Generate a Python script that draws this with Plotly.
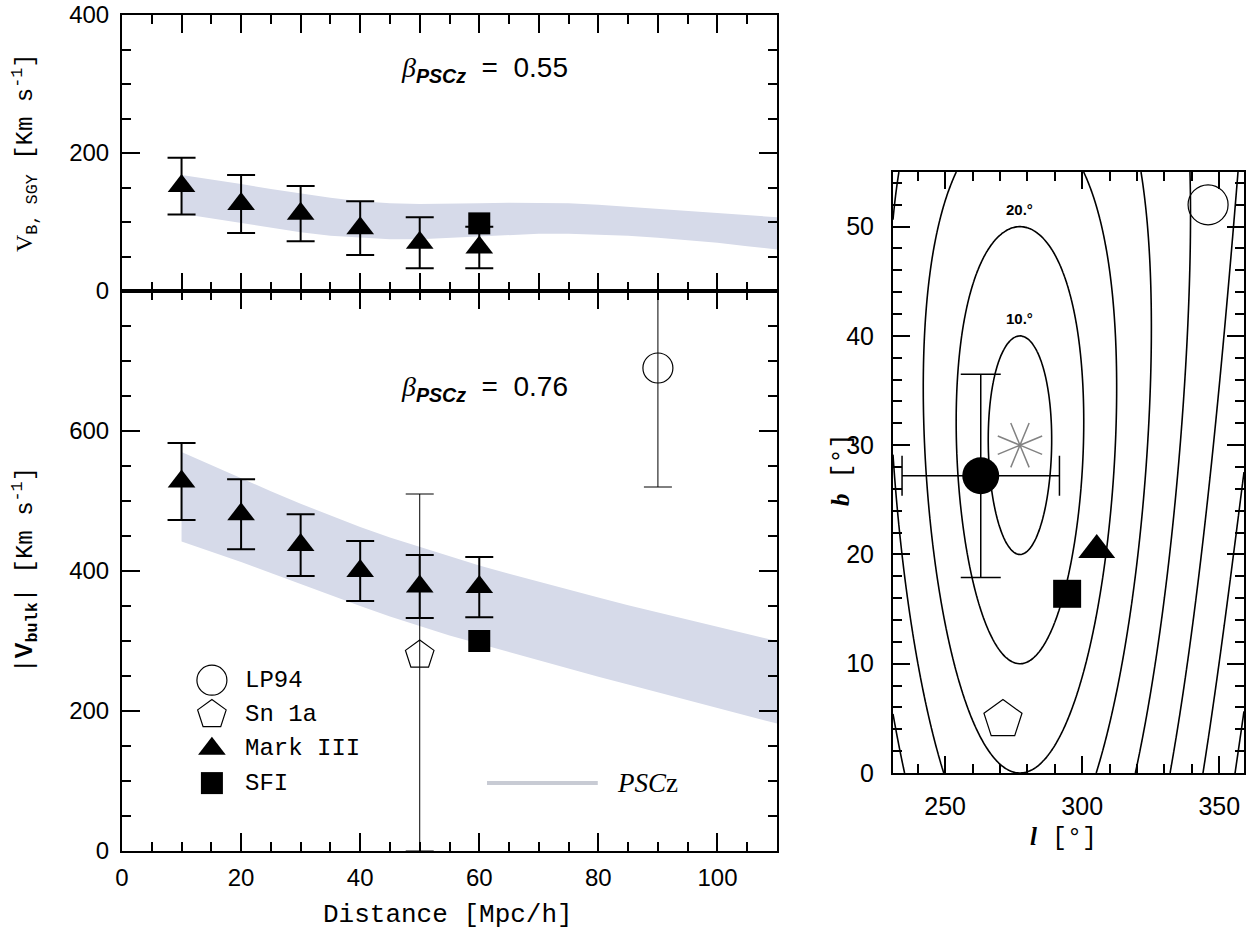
import numpy as np
import plotly.graph_objects as go

W, H = 1252, 935

# ---------------- bulk-flow amplitudes vs. distance ----------------
dist = [10, 20, 30, 40, 50, 60]
markIII_vsgy = [152, 126, 112, 91, 70, 63]
markIII_vsgy_err = [41, 42, 40, 39, 37, 30]
markIII_vbulk = [528, 481, 437, 400, 378, 377]
markIII_vbulk_err = [55, 50, 44, 43, 45, 43]

sfi_dist = [60]
sfi_vsgy = [98]
sfi_vbulk = [300]

sn_dist = [50]
sn_vbulk = [280]
sn_err_plus = [230]
sn_err_minus = [280]

lp_dist = [90]
lp_vbulk = [690]
lp_err = [170]

# PSCz prediction band (lower / upper envelope)
band_dist = [10, 15, 20, 25, 30, 35, 40, 45, 50, 55, 60, 65, 70, 75, 80, 85, 90, 95, 100, 105, 110]
band_sgy_lo = [112, 105, 98, 91, 85, 80, 77, 75, 75, 77, 80, 82, 83, 83, 82, 80, 77, 74, 70, 65, 60]
band_sgy_hi = [168, 162, 155, 148, 141, 135, 130, 127, 126, 126, 127, 128, 128, 127, 125, 123, 120, 117, 114, 110, 107]
band_bulk_lo = [442, 428, 413, 397, 381, 365, 350, 335, 321, 308, 296, 284, 272, 260, 249, 238, 227, 215, 204, 193, 182]
band_bulk_hi = [570, 552, 533, 514, 496, 479, 463, 448, 434, 421, 408, 396, 384, 373, 362, 351, 341, 330, 320, 310, 300]

beta_top = "0.55"
beta_bottom = "0.76"

# ---------------- dipole directions in galactic coordinates ----------------
dip_l, dip_b = [263], [27.2]
dip_err_l, dip_err_b = [28.7], [9.3]
lp_l, lp_b = [345.9], [52.0]
sn_l, sn_b = [271.1], [4.9]
m3_l, m3_b = [305.3], [20.4]
sfi_l, sfi_b = [294.5], [16.4]
pscz_l, pscz_b = [277.3], [30.0]
sep_levels = [10, 20, 30, 40, 50, 60, 70, 80]
sep_labels = ["10.°", "20.°"]

# ---------------- layout geometry (pixels -> paper) ----------------
def px(x):
    return x / W

def py(y):
    return 1 - y / H

L_X0, L_X1 = 122, 777
TOP_Y0, MID_Y, BOT_Y1 = 15, 291, 851
R_X0, R_X1, R_Y0, R_Y1 = 893, 1244, 172, 773

BAND = "rgb(214,218,233)"
TICKF = dict(family="Liberation Sans", size=24, color="black")
MONO = "Liberation Mono"
SERIF = "Liberation Serif"

fig = go.Figure()

# PSCz bands
fig.add_trace(go.Scatter(
    x=band_dist + band_dist[::-1], y=band_sgy_lo + band_sgy_hi[::-1],
    fill="toself", fillcolor=BAND, line=dict(width=0), mode="lines",
    xaxis="x", yaxis="y", hoverinfo="skip"))
fig.add_trace(go.Scatter(
    x=band_dist + band_dist[::-1], y=band_bulk_lo + band_bulk_hi[::-1],
    fill="toself", fillcolor=BAND, line=dict(width=0), mode="lines",
    xaxis="x2", yaxis="y2", hoverinfo="skip"))

# upper panel: SGY component
fig.add_trace(go.Scatter(
    x=sfi_dist, y=sfi_vsgy, mode="markers", xaxis="x", yaxis="y",
    marker=dict(symbol="square", size=22, color="black")))
fig.add_trace(go.Scatter(
    x=dist, y=markIII_vsgy, mode="markers", xaxis="x", yaxis="y",
    marker=dict(symbol="triangle-up", size=24, color="black"),
    error_y=dict(type="data", array=markIII_vsgy_err, width=14, thickness=2, color="black")))

# lower panel: bulk amplitude
fig.add_trace(go.Scatter(
    x=sn_dist, y=sn_vbulk, mode="markers", xaxis="x2", yaxis="y2",
    marker=dict(symbol="pentagon-open", size=30, color="black", line=dict(width=1.2)),
    error_y=dict(type="data", symmetric=False, array=sn_err_plus, arrayminus=sn_err_minus,
                 width=14, thickness=1, color="black")))
fig.add_trace(go.Scatter(
    x=lp_dist, y=lp_vbulk, mode="markers", xaxis="x2", yaxis="y2",
    marker=dict(symbol="circle-open", size=30, color="black", line=dict(width=1.2)),
    error_y=dict(type="data", array=lp_err, width=14, thickness=1, color="black")))
fig.add_trace(go.Scatter(
    x=sfi_dist, y=sfi_vbulk, mode="markers", xaxis="x2", yaxis="y2",
    marker=dict(symbol="square", size=22, color="black")))
fig.add_trace(go.Scatter(
    x=dist, y=markIII_vbulk, mode="markers", xaxis="x2", yaxis="y2",
    marker=dict(symbol="triangle-up", size=24, color="black"),
    error_y=dict(type="data", array=markIII_vbulk_err, width=14, thickness=2, color="black")))

# in-panel legend
legend_entries = [
    ("LP94", dict(symbol="circle-open", size=30, color="black", line=dict(width=1.2))),
    ("Sn 1a", dict(symbol="pentagon-open", size=30, color="black", line=dict(width=1.2))),
    ("Mark III", dict(symbol="triangle-up", size=24, color="black")),
    ("SFI", dict(symbol="square", size=22, color="black")),
]
leg_key_x, leg_text_x, leg_top, leg_step = 15.1, 20.3, 244, 49
annotations = []
for i, (name, mk) in enumerate(legend_entries):
    yy = leg_top - i * leg_step
    fig.add_trace(go.Scatter(x=[leg_key_x], y=[yy], mode="markers", marker=mk,
                             xaxis="x2", yaxis="y2", hoverinfo="skip"))
    annotations.append(dict(x=leg_text_x, y=yy, xref="x2", yref="y2", text=name,
                            showarrow=False, xanchor="left", yanchor="middle",
                            font=dict(family=MONO, size=24, color="black")))
pscz_row = leg_top - 3 * leg_step
shapes = [dict(type="line", xref="x2", yref="y2", x0=61.3, x1=79.9, y0=pscz_row, y1=pscz_row,
               line=dict(color="rgb(200,203,212)", width=4))]
annotations.append(dict(x=82.8, y=pscz_row, xref="x2", yref="y2",
                        text="<i>PSC</i>z", showarrow=False, xanchor="left", yanchor="middle",
                        font=dict(family=SERIF, size=27, color="black")))

# right panel: angular-separation contours around the PSCz dipole
grid_l = np.linspace(231, 359, 257)
grid_b = np.linspace(0, 55, 221)
LL, BB = np.meshgrid(np.radians(grid_l), np.radians(grid_b))
l0, b0 = np.radians(pscz_l[0]), np.radians(pscz_b[0])
cos_sep = np.sin(BB) * np.sin(b0) + np.cos(BB) * np.cos(b0) * np.cos(LL - l0)
sep = np.degrees(np.arccos(np.clip(cos_sep, -1, 1)))
fig.add_trace(go.Contour(
    x=grid_l, y=grid_b, z=sep, xaxis="x3", yaxis="y3",
    contours=dict(start=sep_levels[0], end=sep_levels[-1], size=sep_levels[1] - sep_levels[0],
                  coloring="lines"),
    colorscale=[[0, "black"], [1, "black"]], showscale=False,
    line=dict(width=1.6), hoverinfo="skip"))

fig.add_trace(go.Scatter(
    x=pscz_l, y=pscz_b, mode="markers", xaxis="x3", yaxis="y3",
    marker=dict(symbol="asterisk-open", size=40, angle=22.5, color="rgb(130,130,130)",
                line=dict(color="rgb(130,130,130)", width=1.5))))
fig.add_trace(go.Scatter(
    x=dip_l, y=dip_b, mode="markers", xaxis="x3", yaxis="y3",
    marker=dict(symbol="circle", size=37, color="black"),
    error_x=dict(type="data", array=dip_err_l, width=20, thickness=1.5, color="black"),
    error_y=dict(type="data", array=dip_err_b, width=20, thickness=1.5, color="black")))
fig.add_trace(go.Scatter(
    x=lp_l, y=lp_b, mode="markers", xaxis="x3", yaxis="y3",
    marker=dict(symbol="circle-open", size=40, color="black", line=dict(width=1.2))))
fig.add_trace(go.Scatter(
    x=sn_l, y=sn_b, mode="markers", xaxis="x3", yaxis="y3",
    marker=dict(symbol="pentagon-open", size=40, color="black", line=dict(width=1.2))))
fig.add_trace(go.Scatter(
    x=m3_l, y=m3_b, mode="markers", xaxis="x3", yaxis="y3",
    marker=dict(symbol="triangle-up", size=32, color="black")))
fig.add_trace(go.Scatter(
    x=sfi_l, y=sfi_b, mode="markers", xaxis="x3", yaxis="y3",
    marker=dict(symbol="square", size=28, color="black")))

for lev, lab in zip(sep_levels[:2], sep_labels):
    annotations.append(dict(x=pscz_l[0], y=pscz_b[0] + lev + 1.6, xref="x3", yref="y3",
                            text="<b>%s</b>" % lab, showarrow=False,
                            xanchor="center", yanchor="middle",
                            font=dict(family="Liberation Sans", size=15, color="black")))


def paper_text(x, y, text, font, angle=0):
    return dict(x=px(x), y=py(y), xref="paper", yref="paper", showarrow=False,
                xanchor="center", yanchor="middle", textangle=angle, text=text, font=font)


# beta labels
for txt, yy in ((beta_top, 70), (beta_bottom, 388)):
    annotations.append(paper_text(
        484, yy,
        '<span style="font-family:Liberation Serif"><i>β</i></span>'
        '<sub><b><i>PSCz</i></b></sub>  =  ' + txt,
        dict(family="Liberation Sans", size=28, color="black")))

# axis titles
annotations += [
    paper_text(25, 153,
               '<span style="font-family:Liberation Serif">V</span><sub>B, SGY</sub> [Km s<sup>-1</sup>]',
               dict(family=MONO, size=24, color="black"), -90),
    paper_text(25, 570,
               '|<span style="font-family:Liberation Sans"><b>V</b></span><sub><b>bulk</b></sub>| [Km s<sup>-1</sup>]',
               dict(family=MONO, size=24, color="black"), -90),
    paper_text(448, 915, "Distance [Mpc/h]", dict(family=MONO, size=26, color="black")),
    paper_text(842, 470,
               '<span style="font-family:Liberation Serif"><b><i>b</i></b></span> [°]',
               dict(family=MONO, size=25, color="black"), -90),
    paper_text(1063, 838,
               '<span style="font-family:Liberation Serif"><b><i>l</i></b></span> [°]',
               dict(family=MONO, size=25, color="black")),
]

frame = dict(showline=True, linecolor="black", linewidth=2, mirror="ticks", ticks="inside",
             tickcolor="black", tickwidth=1.5, showgrid=False, zeroline=False,
             tickfont=TICKF, fixedrange=True, automargin=False)

def minor(d, t0=0):
    return dict(tickmode="linear", tick0=t0, dtick=d, ticks="inside", ticklen=9,
                tickwidth=1.5, tickcolor="black", showgrid=False)

fig.update_layout(
    width=W, height=H, margin=dict(l=0, r=0, t=0, b=0, pad=0, autoexpand=False),
    paper_bgcolor="white", plot_bgcolor="white", showlegend=False,
    xaxis=dict(frame, domain=[px(L_X0), px(L_X1)], anchor="y", range=[0, 110],
               tickmode="linear", tick0=0, dtick=10, ticklen=18, showticklabels=False,
               minor=minor(5)),
    yaxis=dict(frame, domain=[py(MID_Y), py(TOP_Y0)], anchor="x", range=[0, 400],
               tickmode="array", tickvals=[0, 200, 400], ticklen=18,
               ticklabelstandoff=6, minor=minor(50)),
    xaxis2=dict(frame, domain=[px(L_X0), px(L_X1)], anchor="y2", range=[0, 110],
                tickmode="linear", tick0=0, dtick=20, ticklen=18, ticklabelstandoff=4,
                minor=minor(5)),
    yaxis2=dict(frame, domain=[py(BOT_Y1), py(MID_Y)], anchor="x2", range=[0, 800],
                tickmode="array", tickvals=[0, 200, 400, 600], ticklen=18,
                ticklabelstandoff=6, minor=minor(50)),
    xaxis3=dict(frame, domain=[px(R_X0), px(R_X1)], anchor="y3", range=[231, 359],
                tickmode="array", tickvals=[250, 300, 350], ticklen=17, ticklabelstandoff=10,
                tickfont=dict(TICKF, size=25), minor=minor(10)),
    yaxis3=dict(frame, domain=[py(R_Y1), py(R_Y0)], anchor="x3", range=[0, 55],
                tickmode="linear", tick0=0, dtick=10, ticklen=17, ticklabelstandoff=12,
                tickfont=dict(TICKF, size=25), minor=minor(2)),
    annotations=annotations, shapes=shapes,
)

fig.write_html("out.html")
